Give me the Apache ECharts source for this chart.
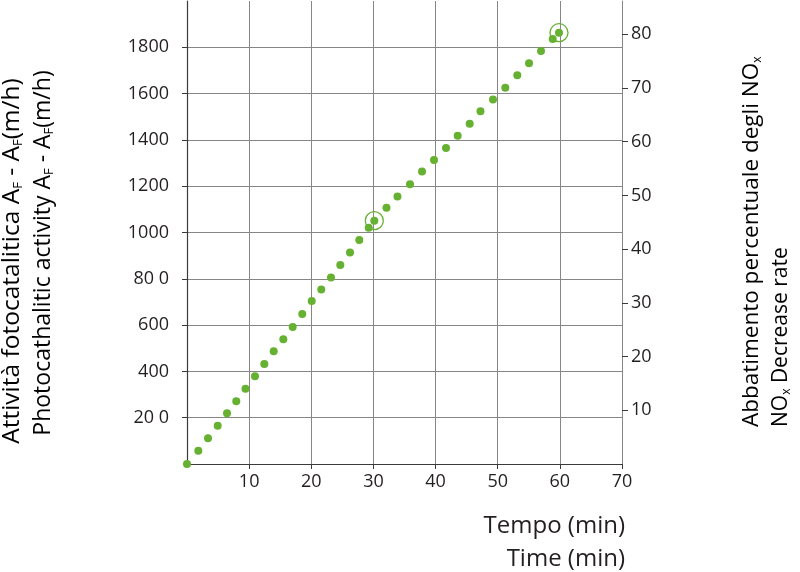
<!DOCTYPE html>
<html>
<head>
<meta charset="utf-8">
<script src="https://cdn.jsdelivr.net/npm/echarts@6/dist/echarts.min.js"></script>
<style>
html,body{margin:0;padding:0;background:#fff;}
#chart{width:800px;height:572px;}
</style>
</head>
<body>
<div id="chart"></div>
<script>
// Time (min)
const timeMin = [0, 1.82, 3.38, 4.94, 6.44, 7.93, 9.41, 10.94, 12.44, 13.95, 15.50, 17.01, 18.55, 20.07, 21.61, 23.17, 24.67, 26.23, 27.73, 29.24, 30.14, 32.10, 33.87, 35.89, 37.82, 39.75, 41.68, 43.56, 45.49, 47.23, 49.24, 51.22, 53.15, 55.04, 56.97, 58.85, 59.86];
// Photocatalytic activity AF - AF (m/h)
const activity = [0, 57, 111, 165, 219, 271, 325, 379, 432, 487, 539, 592, 648, 704, 754, 806, 860, 914, 968, 1021, 1051, 1107, 1156, 1208, 1263, 1313, 1365, 1418, 1470, 1524, 1575, 1625, 1679, 1731, 1784, 1836, 1863];
// indices of circled points
const circledIdx = [20, 36];
// tick labels
const xTickValues = [10, 20, 30, 40, 50, 60, 70];
const leftTickValues = [200, 400, 600, 800, 1000, 1200, 1400, 1600, 1800];
const leftTickLabels = ['20 0', '400', '600', '80 0', '1000', '1200', '1400', '1600', '1800'];
const rightTickValues = [10, 20, 30, 40, 50, 60, 70, 80];

const green = '#66b132';
const ink = '#231f20';
const font = 'Open Sans';

const pts = timeMin.map((t, i) => [t, activity[i]]);
const circled = circledIdx.map(i => [timeMin[i], activity[i]]);

const chart = echarts.init(document.getElementById('chart'), null, {renderer: 'canvas'});

function subRich(size) {
  const ss = Math.round(size * 0.55);
  return {
    n: {fontFamily: font, fontSize: size, color: ink, lineHeight: size + 4, verticalAlign: 'middle'},
    s: {fontFamily: font, fontSize: ss, color: ink, lineHeight: ss, padding: [Math.round(size * 0.55), 0, 0, 0], verticalAlign: 'middle'}
  };
}

chart.setOption({
  animation: false,
  textStyle: {fontFamily: font},
  grid: {left: 187, right: 178, top: 1, bottom: 108, containLabel: false},
  xAxis: {
    type: 'value', min: 0, max: 70, interval: 10,
    axisLine: {show: true, lineStyle: {color: '#3a3a3a', width: 1.2}},
    axisTick: {show: true, length: 5, lineStyle: {color: '#3a3a3a'}, customValues: xTickValues},
    axisLabel: {customValues: xTickValues, color: ink, fontSize: 18, margin: 9, fontFamily: font},
    splitLine: {show: true, lineStyle: {color: '#868686', width: 1}}
  },
  yAxis: [{
    type: 'value', min: 0, max: 2000, interval: 200, position: 'left',
    axisLine: {show: true, lineStyle: {color: '#3a3a3a', width: 1.2}},
    axisTick: {show: true, length: 5, lineStyle: {color: '#3a3a3a'}, customValues: leftTickValues},
    axisLabel: {
      customValues: leftTickValues, color: ink, fontSize: 18, margin: 18, fontFamily: font,
      formatter: v => { const i = leftTickValues.indexOf(v); return i >= 0 ? leftTickLabels[i] : ''; }
    },
    splitLine: {show: true, lineStyle: {color: '#868686', width: 1}}
  }, {
    type: 'value', min: 0, max: 86.2, position: 'right',
    axisLine: {show: true, lineStyle: {color: '#868686', width: 1}},
    axisTick: {show: true, length: 6, lineStyle: {color: '#3a3a3a'}, customValues: rightTickValues},
    axisLabel: {customValues: rightTickValues, color: ink, fontSize: 18, margin: 9, fontFamily: font},
    splitLine: {show: false}
  }],
  series: [{
    type: 'scatter', data: pts, symbol: 'circle', symbolSize: 8,
    itemStyle: {color: green, opacity: 1}, silent: true, z: 3
  }, {
    type: 'scatter', data: circled, symbol: 'circle', symbolSize: 18,
    itemStyle: {color: 'rgba(0,0,0,0)', borderColor: green, borderWidth: 1.3, opacity: 1}, silent: true, z: 4
  }],
  graphic: [
    {type: 'text', x: 12, y: 261, rotation: Math.PI / 2, style: {
      text: '{n|Attività fotocatalitica A}{s|F}{n| - A}{s|F}{n|(m/h)}', rich: subRich(24.5), align: 'center', verticalAlign: 'middle'}},
    {type: 'text', x: 43, y: 253, rotation: Math.PI / 2, style: {
      text: '{n|Photocathalitic activity A}{s|F}{n| - A}{s|F}{n|(m/h)}', rich: subRich(23), align: 'center', verticalAlign: 'middle'}},
    {type: 'text', x: 752, y: 427, rotation: Math.PI / 2, style: {
      text: '{n|Abbatimento percentuale degli NO}{s|x}', rich: subRich(22.5), align: 'left', verticalAlign: 'middle'}},
    {type: 'text', x: 781, y: 427, rotation: Math.PI / 2, style: {
      text: '{n|NO}{s|x}{n| Decrease rate}', rich: subRich(21), align: 'left', verticalAlign: 'middle'}},
    {type: 'text', x: 625, y: 526, style: {
      text: 'Tempo (min)', fill: ink, font: '24px "' + font + '"', align: 'right', verticalAlign: 'middle'}},
    {type: 'text', x: 625, y: 559, style: {
      text: 'Time (min)', fill: ink, font: '24px "' + font + '"', align: 'right', verticalAlign: 'middle'}}
  ]
});
</script>
</body>
</html>
